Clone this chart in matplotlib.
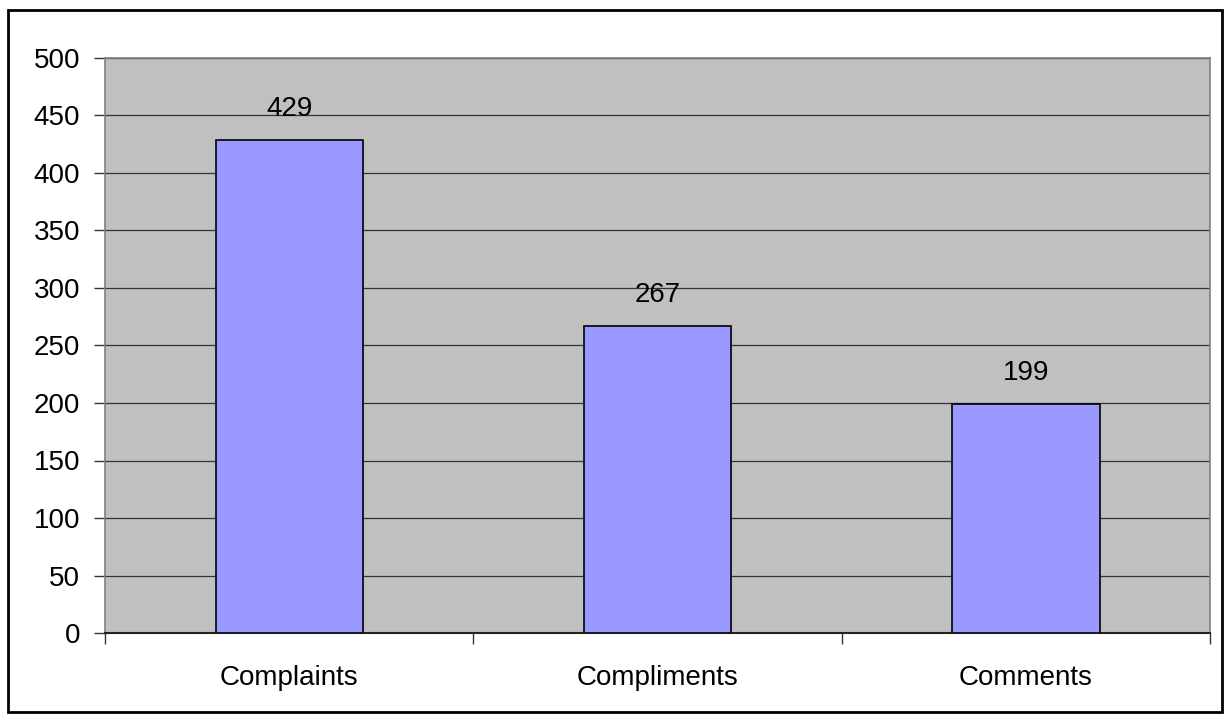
import matplotlib.pyplot as plt
from matplotlib.patches import Rectangle

# Data
categories = ['Complaints', 'Compliments', 'Comments']
counts = [429, 267, 199]
y_ticks = [0, 50, 100, 150, 200, 250, 300, 350, 400, 450, 500]

plt.rcParams['font.family'] = ['Liberation Sans', 'DejaVu Sans']

fig = plt.figure(figsize=(12.3, 7.2), dpi=100)
ax = fig.add_axes([105 / 1230, 87 / 720, 1105 / 1230, 575 / 720])

# Outer frame around the whole chart
fig.patches.append(Rectangle((8 / 1230, 8 / 720), 1214 / 1230, 702 / 720,
                             transform=fig.transFigure, fill=False,
                             edgecolor='black', linewidth=2))

ax.set_facecolor('#C0C0C0')
x = range(len(categories))
bars = ax.bar(x, counts, width=0.4, color='#9999FF', edgecolor='black',
              linewidth=1.2, zorder=3)

for xi, v in zip(x, counts):
    ax.annotate(str(v), (xi, v), xytext=(0, 13), textcoords='offset points',
                ha='center', va='bottom', fontsize=20)

ax.set_ylim(0, 500)
ax.set_xlim(-0.5, 2.5)
ax.set_yticks(y_ticks)
ax.yaxis.grid(True, color='#333333', linewidth=0.9, zorder=1)
ax.set_axisbelow(True)

ax.set_xticks(list(x))
ax.set_xticklabels(categories, fontsize=20)
ax.set_xticks([-0.5, 0.5, 1.5, 2.5], minor=True)
ax.tick_params(axis='x', which='major', length=0, pad=23)
ax.tick_params(axis='x', which='minor', length=8, width=1, color='#333333')
ax.tick_params(axis='y', length=8, width=1, color='#333333', labelsize=20, pad=10)

for side in ['left', 'right', 'top']:
    ax.spines[side].set_color('#808080')
    ax.spines[side].set_linewidth(1.2)
ax.spines['bottom'].set_color('#222222')
ax.spines['bottom'].set_linewidth(1.5)

fig.savefig('out.png', dpi=100)
